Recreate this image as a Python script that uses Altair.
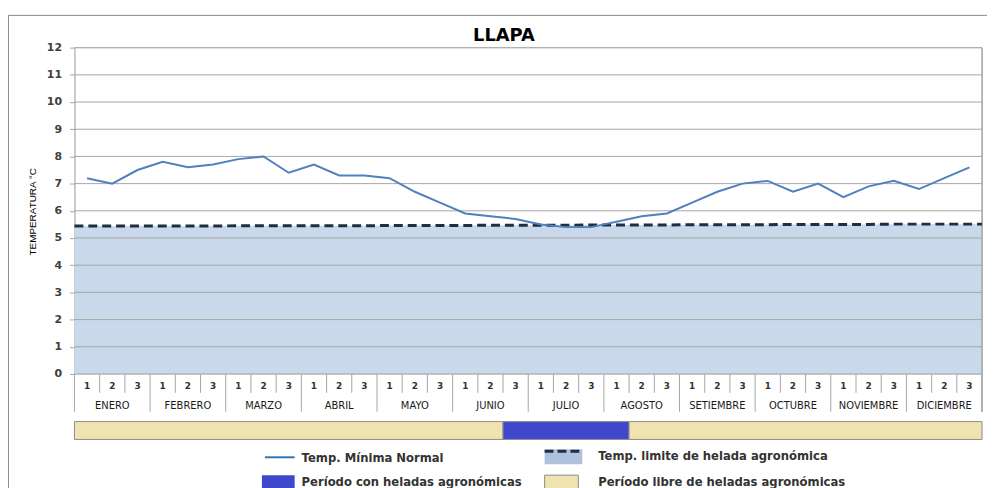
import altair as alt
import pandas as pd

# ---------------- data ----------------
months = ["ENERO", "FEBRERO", "MARZO", "ABRIL", "MAYO", "JUNIO", "JULIO",
          "AGOSTO", "SETIEMBRE", "OCTUBRE", "NOVIEMBRE", "DICIEMBRE"]
dekad_labels = ["1", "2", "3"]
# Temp. Mínima Normal, per dekad (36 values)
tmin = [7.2, 7.0, 7.5,  7.8, 7.6, 7.7,  7.9, 8.0, 7.4,  7.7, 7.3, 7.3,
        7.2, 6.7, 6.3,  5.9, 5.8, 5.7,  5.5, 5.4, 5.4,  5.6, 5.8, 5.9,
        6.3, 6.7, 7.0,  7.1, 6.7, 7.0,  6.5, 6.9, 7.1,  6.8, 7.2, 7.6]
# Temp. límite de helada agronómica, per dekad
tlim = [5.44, 5.44, 5.44, 5.44, 5.44, 5.44, 5.45, 5.45, 5.45, 5.45, 5.45, 5.45,
        5.46, 5.46, 5.46, 5.46, 5.47, 5.47, 5.47, 5.47, 5.48, 5.48, 5.48, 5.48,
        5.49, 5.49, 5.49, 5.49, 5.50, 5.50, 5.50, 5.50, 5.51, 5.51, 5.51, 5.51]
# periods (in dekads, start/end)
period_names = ["libre", "helada", "libre"]
period_start = [0, 17, 22]
period_end = [17, 22, 36]
y_ticks = list(range(0, 13))

# ---------------- tables ----------------
n = len(tmin)
df_line = pd.DataFrame({"x": [i + 0.5 for i in range(n)], "t": tmin})
lim_x = [0.0] + [i + 0.5 for i in range(n)] + [float(n)]
lim_y = [tlim[0]] + tlim + [tlim[-1]]
df_lim = pd.DataFrame({"x": lim_x, "t": lim_y})
df_grid = pd.DataFrame({"y": y_ticks})
df_dek = pd.DataFrame({"x": [i + 0.5 for i in range(n)],
                       "lab": [dekad_labels[i % 3] for i in range(n)]})
df_mon = pd.DataFrame({"x": [3 * m + 1.5 for m in range(12)], "lab": months})
df_dsep = pd.DataFrame({"x": [i for i in range(1, n) if i % 3 != 0]})
df_msep = pd.DataFrame({"x": [3 * m for m in range(13)]})
df_per = pd.DataFrame({"p": period_names, "x0": period_start, "x1": period_end})
one = pd.DataFrame({"a": [0]})

W, H = 915, 329
xs = alt.Scale(domain=[0, 36], nice=False, zero=False)
ys = alt.Scale(domain=[0, 12], nice=False, zero=False)

FONT = "DejaVu Sans"
GRID = "#A6A6A6"


def X(field):
    return alt.X(field, scale=xs, axis=None)


def Y(field):
    return alt.Y(field, scale=ys, axis=None)


area = alt.Chart(df_lim).mark_area(color="#C9D8EB", opacity=1).encode(
    x=X("x:Q"),
    y=alt.Y("t:Q", scale=ys,
            axis=alt.Axis(values=y_ticks, grid=False, domain=True, domainColor=GRID,
                          ticks=True, tickSize=5, tickColor=GRID,
                          labelOverlap=False,
                          labelFont=FONT, labelFontSize=11, labelFontWeight="bold",
                          labelColor="#404040", labelPadding=8,
                          title="TEMPERATURA °C",
                          titleFont="Liberation Sans Narrow, Liberation Sans",
                          titleFontSize=10, titleFontWeight="normal", titleColor="#000000",
                          titleX=-42, titleY=165, titleAngle=270,
                          titleAlign="center", titleBaseline="middle")),
)

grid = alt.Chart(df_grid).mark_rule(color=GRID, strokeWidth=1).encode(
    y=Y("y:Q"), x=alt.value(0), x2=alt.value(W)
)
right_border = alt.Chart(one).mark_rule(color=GRID, strokeWidth=1.5).encode(
    x=alt.value(W), y=alt.value(0), y2=alt.value(H + 38)
)

lim_line = alt.Chart(df_lim).mark_line(color="#1F2D45", strokeWidth=3,
                                       strokeDash=[9, 5]).encode(
    x=X("x:Q"), y=Y("t:Q")
)
tline = alt.Chart(df_line).mark_line(color="#4F81BD", strokeWidth=2).encode(
    x=X("x:Q"), y=Y("t:Q")
)

# x axis (two-level) drawn with marks
dsep = alt.Chart(df_dsep).mark_rule(color=GRID).encode(
    x=X("x:Q"), y=alt.value(H), y2=alt.value(H + 19)
)
msep = alt.Chart(df_msep).mark_rule(color=GRID).encode(
    x=X("x:Q"), y=alt.value(H), y2=alt.value(H + 38)
)
dek_txt = alt.Chart(df_dek).mark_text(font=FONT, fontSize=9, fontWeight="bold",
                                      color="#333333", baseline="middle").encode(
    x=X("x:Q"), y=alt.value(H + 12), text="lab:N"
)
mon_txt = alt.Chart(df_mon).mark_text(font=FONT, fontSize=10, color="#1a1a1a",
                                      baseline="middle").encode(
    x=X("x:Q"), y=alt.value(H + 32), text="lab:N"
)

strip = alt.Chart(df_per).mark_rect(stroke="#8C8C8C", strokeWidth=1).encode(
    x=X("x0:Q"), x2="x1:Q",
    y=alt.value(H + 48), y2=alt.value(H + 66),
    color=alt.Color("p:N", scale=alt.Scale(domain=["helada", "libre"],
                                           range=["#3F48CC", "#EFE4B0"]), legend=None),
)

# title
title = alt.Chart(one).mark_text(text="LLAPA", font=FONT, fontSize=18, fontWeight="bold",
                                 color="#000000", align="center", baseline="middle").encode(
    x=alt.value(433), y=alt.value(-12)
)
# outer frame
frame_top = alt.Chart(one).mark_rule(color="#8C8C8C").encode(
    x=alt.value(-67), x2=alt.value(921), y=alt.value(-32.5)
)
frame_left = alt.Chart(one).mark_rule(color="#8C8C8C").encode(
    x=alt.value(-66.5), y=alt.value(-32), y2=alt.value(H + 130)
)

# legend
LT = dict(font=FONT, fontSize=11.7, fontWeight="bold", color="#333333",
          align="left", baseline="middle")
leg_line = alt.Chart(one).mark_rule(color="#2E75B6", strokeWidth=2).encode(
    x=alt.value(192), x2=alt.value(222), y=alt.value(H + 84)
)
leg_t1 = alt.Chart(one).mark_text(text="Temp. Mínima Normal", **LT).encode(
    x=alt.value(229), y=alt.value(H + 85)
)
leg_box = alt.Chart(one).mark_rect(color="#AFC2DD").encode(
    x=alt.value(474), x2=alt.value(512), y=alt.value(H + 76), y2=alt.value(H + 91)
)
leg_dash = alt.Chart(one).mark_rule(color="#1F2D45", strokeWidth=3,
                                    strokeDash=[9, 4]).encode(
    x=alt.value(474), x2=alt.value(512), y=alt.value(H + 78)
)
leg_t2 = alt.Chart(one).mark_text(text="Temp. limite de helada agronómica", **LT).encode(
    x=alt.value(528), y=alt.value(H + 83)
)
leg_sq1 = alt.Chart(one).mark_rect(color="#3F48CC").encode(
    x=alt.value(189), x2=alt.value(222), y=alt.value(H + 102), y2=alt.value(H + 118)
)
leg_t3 = alt.Chart(one).mark_text(text="Período con heladas agronómicas", **LT).encode(
    x=alt.value(229), y=alt.value(H + 109)
)
leg_sq2 = alt.Chart(one).mark_rect(color="#EFE4B0", stroke="#8C8C8C").encode(
    x=alt.value(474), x2=alt.value(508), y=alt.value(H + 102), y2=alt.value(H + 118)
)
leg_t4 = alt.Chart(one).mark_text(text="Período libre de heladas agronómicas", **LT).encode(
    x=alt.value(528), y=alt.value(H + 109)
)

chart = alt.layer(
    area, grid, right_border, lim_line, tline,
    dsep, msep, dek_txt, mon_txt, strip,
    title, frame_top, frame_left,
    leg_line, leg_t1, leg_box, leg_dash, leg_t2, leg_sq1, leg_t3, leg_sq2, leg_t4,
).resolve_axis(x="independent", y="independent").properties(
    width=W, height=H,
    autosize=alt.AutoSizeParams(type="none"),
    padding={"left": 67, "top": 38, "right": 5, "bottom": 113},
).configure_view(stroke=None).configure(background="white")

chart.save("out.html", embed_options={"renderer": "svg", "actions": False})
